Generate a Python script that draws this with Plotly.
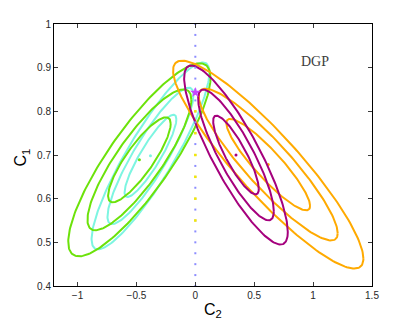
import numpy as np
import plotly.graph_objects as go

# confidence ellipse families (outer contour parameters)
family_names = ['cyan', 'green', 'orange', 'purple']
family_colors = ['rgb(125,245,225)', 'rgb(108,226,10)', 'rgb(255,170,0)', 'rgb(165,0,125)']
center_c2 = [-0.381, -0.475, 0.619, 0.345]
center_c1 = [0.698, 0.689, 0.678, 0.700]
spread_c2 = [0.500, 0.604, 0.808, 0.440]
spread_c1 = [0.214, 0.221, 0.238, 0.205]
corr = [0.89, 0.85, -0.905, -0.86]
levels = [1.0, 0.73, 0.44]

# grid of points along C2 = 0
grid_c1 = [0.4, 0.425, 0.45, 0.475, 0.5, 0.525, 0.55, 0.575, 0.6, 0.625, 0.65,
           0.675, 0.7, 0.725, 0.75, 0.775, 0.8, 0.825, 0.85, 0.875, 0.9, 0.925,
           0.95, 0.975, 1.0]
yellow_c1 = [0.55, 0.6, 0.65, 0.7, 0.75, 0.8]

dgp_c2 = [0.0]
dgp_c1 = [0.843]

x_ticks = [-1, -0.5, 0, 0.5, 1, 1.5]
y_ticks = [0.4, 0.5, 0.6, 0.7, 0.8, 0.9, 1.0]
y_ticktext = ['0.4', '0.5', '0.6', '0.7', '0.8', '0.9', '1']

fig = go.Figure()

t = np.linspace(0, 2 * np.pi, 200)
for i, name in enumerate(family_names):
    for k in levels:
        ex = center_c2[i] + k * spread_c2[i] * np.cos(t)
        ey = center_c1[i] + k * spread_c1[i] * (corr[i] * np.cos(t) + np.sqrt(1 - corr[i] ** 2) * np.sin(t))
        fig.add_trace(go.Scatter(x=ex, y=ey, mode='lines',
                                 line=dict(color=family_colors[i], width=2),
                                 showlegend=False, hoverinfo='skip'))
    fig.add_trace(go.Scatter(x=[center_c2[i]], y=[center_c1[i]], mode='markers',
                             marker=dict(color=family_colors[i], size=3),
                             showlegend=False))

fig.add_trace(go.Scatter(x=[0] * len(grid_c1), y=grid_c1, mode='markers',
                         marker=dict(color='rgb(140,140,255)', size=2, symbol='square'),
                         showlegend=False))
fig.add_trace(go.Scatter(x=[0] * len(yellow_c1), y=yellow_c1, mode='markers',
                         marker=dict(color='rgb(245,235,0)', size=2.5, symbol='square'),
                         showlegend=False))
fig.add_trace(go.Scatter(x=dgp_c2, y=dgp_c1, mode='markers',
                         marker=dict(color='rgb(200,70,255)', size=8, symbol='star'),
                         showlegend=False))

axis_common = dict(showgrid=False, zeroline=False, showline=True, linecolor='black',
                   linewidth=1, mirror='ticks', ticks='inside', ticklen=4,
                   tickcolor='rgb(60,60,60)',
                   tickfont=dict(family='Liberation Sans, Arial', size=10, color='rgb(40,40,40)'))

fig.update_layout(
    width=410, height=327,
    margin=dict(l=54, r=38, t=24, b=41),
    paper_bgcolor='white', plot_bgcolor='white',
    xaxis=dict(range=[-1.2, 1.5], tickvals=x_ticks, **axis_common),
    yaxis=dict(range=[0.4, 1.0], tickvals=y_ticks, ticktext=y_ticktext, **axis_common),
    annotations=[
        dict(x=1.017, y=0.914, xref='x', yref='y', text='DGP', showarrow=False,
             font=dict(family='Liberation Serif, Times New Roman', size=14, color='rgb(60,60,60)')),
        dict(x=0.5, y=-0.05, xref='paper', yref='paper', xanchor='center', yanchor='top',
             text='C<sub>2</sub>', showarrow=False,
             font=dict(family='Liberation Sans, Arial', size=16, color='black')),
        dict(x=-0.065, y=0.49, xref='paper', yref='paper', xanchor='right', yanchor='middle',
             text='C<sub>1</sub>', showarrow=False, textangle=-90,
             font=dict(family='Liberation Sans, Arial', size=16, color='black')),
    ],
)

fig.write_html("out.html", config={'displayModeBar': False},
               post_script="document.body.style.margin='0';")
